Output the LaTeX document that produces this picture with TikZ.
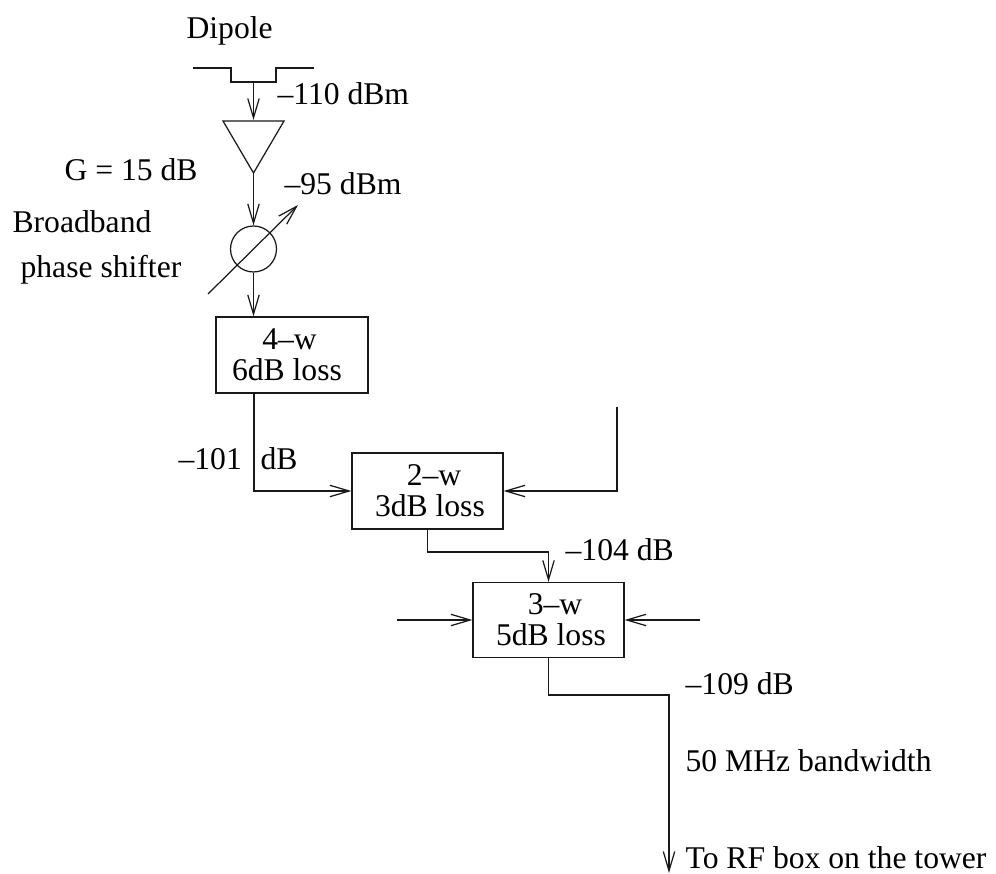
\documentclass[tikz,border=0pt]{standalone}
\usepackage{fontspec}
\setmainfont{Liberation Serif}
\usetikzlibrary{calc,arrows.meta}
\definecolor{ink}{RGB}{25, 25, 25}

\begin{document}
\begin{tikzpicture}[x=0.02cm, y=-0.02cm, >={Straight Barb[length=11pt, width=6.5pt]}, line width=0.7pt, ink,
  lossbox/.style={draw, align=center, inner sep=0pt, text=black, font=\fontsize{18}{17.5}\selectfont},
  lbl/.style={anchor=base west, inner sep=0pt, text=black, font=\fontsize{18}{20}\selectfont}]
  \useasboundingbox (0,0) rectangle (996,874);

  % Dipole
  \node[lbl] (dipole) at (186,39) {Dipole};
  \draw (193,68) -- (231,68) -- (231,82) -- (276,82) -- (276,68) -- (314,68);
  \coordinate (feed) at (253.5,82);

  % Amplifier
  \coordinate (ampl) at (223,121);
  \coordinate (ampr) at (284,121);
  \coordinate (ampin) at (253.5,120);
  \coordinate (ampout) at (253.5,173);
  \draw (ampl) -- (ampr) -- (ampout) -- cycle;
  \draw[->] (feed) -- (ampin);
  \node[lbl] (inlevel) at (277,105) {--110 dBm};
  \node[lbl] (gain) at (64,181) {G = 15 dB};

  % Phase shifter
  \node[draw, circle, minimum size=0.92cm, inner sep=0pt] (shifter) at (253.5,249) {};
  \coordinate (tunea) at (208,294);
  \coordinate (tuneb) at (298,205);
  \draw[->] (ampout) -- (shifter.north);
  \draw[->] (tunea) -- (tuneb);
  \node[lbl] (amplevel) at (284,195) {--95 dBm};
  \node[lbl] (bbtext) at (12,233) {Broadband};
  \node[lbl] (pstext) at (20,278) {phase shifter};

  % Combiner boxes
  \node[lossbox, minimum width=3.04cm, minimum height=1.52cm] (fourw) at (292,355) {4--w\kern2.8pt\\6dB loss\kern5.7pt};
  \node[lossbox, minimum width=3.02cm, minimum height=1.52cm] (twow) at (427.5,491) {\kern7.4pt 2--w\\\kern2.8pt 3dB loss};
  \node[lossbox, minimum width=3.02cm, minimum height=1.5cm] (threew) at (548.5,620) {\kern7.4pt 3--w\\\kern2.8pt 5dB loss};
  \draw[->] (shifter.south) -- (shifter.south |- fourw.north);

  % Feeds between the boxes
  \coordinate (fourout) at (254,393);
  \draw[->] (fourout) |- (twow.west);
  \node[lbl] (fourlevel) at (178,469) {--101};
  \node[lbl] (fourunit) at (260,469) {dB};
  \coordinate (twoin) at (617,407);
  \draw[->] (twoin) |- (twow.east);
  \draw[->] (twow.south) -- ++(0,22.5) -| (threew.north);
  \node[lbl] (twolevel) at (565,560) {--104 dB};
  \coordinate (threel) at (397,620);
  \coordinate (threer) at (700,620);
  \draw[->] (threel) -- (threew.west);
  \draw[->] (threer) -- (threew.east);

  % Output to the tower
  \coordinate (towerend) at (669,873);
  \draw[->] (threew.south) |- (669,695) -- (towerend);
  \node[lbl] (threelevel) at (685,694) {--109 dB};
  \node[lbl] (bwtext) at (685,771) {50 MHz bandwidth};
  \node[lbl] (totower) at (685,868) {To RF box on the tower};
\end{tikzpicture}
\end{document}
